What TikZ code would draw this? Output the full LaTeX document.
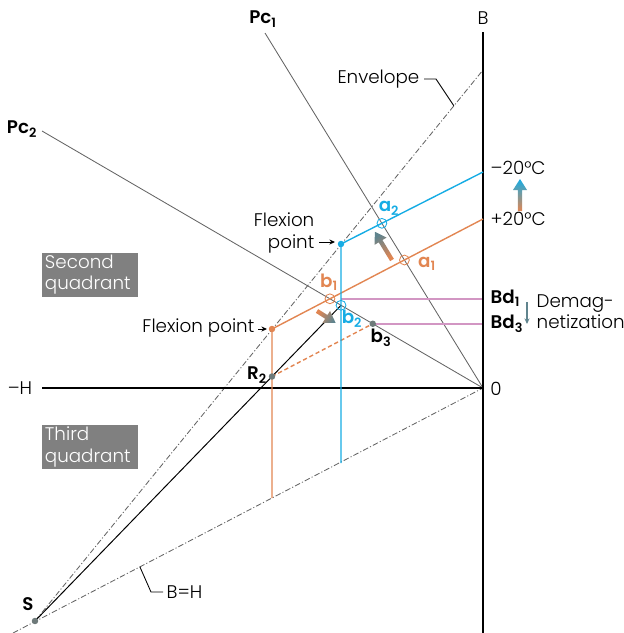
\documentclass[tikz,border=0pt]{standalone}
\usepackage{fontspec}
\setmainfont{Poppins}[UprightFont={* Light}, BoldFont={* SemiBold}]
\usetikzlibrary{arrows.meta,positioning,calc}
\definecolor{cyanc}{RGB}{22,172,228}
\definecolor{orangec}{RGB}{226,134,82}
\definecolor{pinkc}{RGB}{210,150,195}
\definecolor{lineg}{RGB}{100,100,100}
\definecolor{dotg}{RGB}{110,122,122}
\definecolor{headg}{RGB}{96,132,142}
\definecolor{boxg}{RGB}{128,128,128}
\newcommand{\lowix}[1]{\textsubscript{#1}}
\newcommand{\gradarrow}[5]{%
  \begin{scope}[shift={(#1)},rotate=#2]
    \pgfmathsetmacro{\shadeang}{#2-90}
    \shade[top color=#5,bottom color=#4,shading angle=\shadeang]
      (0,-2.2) -- (#3-11,-2.2) -- (#3-11,-7) -- (#3,0) -- (#3-11,7) -- (#3-11,2.2) -- (0,2.2) -- cycle;
  \end{scope}}

\begin{document}
\begin{tikzpicture}[x=0.025cm,y=-0.025cm,
        lbl/.style={font=\fontsize{13}{15}\selectfont, inner sep=1pt},
        bl/.style={lbl, font=\fontsize{13}{15}\selectfont\bfseries},
        axis/.style={line width=0.8pt},
        guide/.style={draw=lineg, line width=0.6pt},
        chain/.style={draw=lineg, line width=0.6pt, dash pattern=on 4pt off 1.5pt on 0.8pt off 1.5pt},
        curveb/.style={draw=cyanc, line width=1pt},
        curveo/.style={draw=orangec, line width=1pt},
        level/.style={draw=pinkc, line width=1.1pt},
        ring/.style={line width=0.6pt},
        ptr/.style={-{Stealth[length=4pt,width=3.6pt]}, line width=0.6pt},
        qbox/.style={fill=boxg, text=white, align=left, font=\fontsize{13}{15}\selectfont,
                     minimum width=2.4cm, text width=2.25cm, inner sep=1.5pt}
    ]
        \useasboundingbox (0,0) rectangle (624,633);

        \coordinate (O) at (483,388);
        \coordinate (Btop) at (483,32);
        \coordinate (Bbot) at (483,633);
        \coordinate (Hend) at (42,388);
        \coordinate (S) at (35,621);
        \coordinate (EnvTop) at (483,70);
        \coordinate (BHstart) at (13,633);
        \coordinate (Pc1) at (265,33);
        \coordinate (Pc2) at (42,131);
        \coordinate (Cm20) at (483,172);
        \coordinate (FlexB) at (341,244);
        \coordinate (BlueBot) at (341,463);
        \coordinate (Cp20) at (483,219);
        \coordinate (FlexO) at (272,329);
        \coordinate (OrBot) at (272,498);
        \coordinate (a2) at (intersection of Cm20--FlexB and Pc1--O);
        \coordinate (a1) at (intersection of Cp20--FlexO and Pc1--O);
        \coordinate (b1) at (intersection of Cp20--FlexO and Pc2--O);
        \coordinate (b2) at (intersection of FlexB--BlueBot and Pc2--O);
        \coordinate (b3) at ($(Pc2)!0.75!(O)$);
        \coordinate (R2) at (intersection of S--b2 and FlexO--OrBot);
        \coordinate (envpt) at ($(S)!0.935!(EnvTop)$);
        \coordinate (bhpt) at ($(BHstart)!0.27!(O)$);

        \draw[chain] (S) -- (EnvTop);
        \draw[chain] (BHstart) -- (O);
        \draw[guide] (Pc1) -- (O);
        \draw[guide] (Pc2) -- (O);
        \draw[level] (b1 -| BlueBot) -- (b1 -| O);
        \draw[level] (b3) -- (b3 -| O);
        \draw[axis] (Btop) -- (Bbot);
        \draw[axis] (Hend) -- (O);
        \draw[line width=0.7pt] (S) -- (b2);
        \draw[curveo, dash pattern=on 3pt off 2pt] (R2) -- (b3);
        \draw[curveo] (Cp20) -- (FlexO) -- (OrBot);
        \draw[curveb] (Cm20) -- (FlexB) -- (BlueBot);

        \draw[ring, orangec] (a1) circle[radius=3.5pt];
        \draw[ring, orangec] (b1) circle[radius=3.5pt];
        \draw[ring, cyanc] (a2) circle[radius=3.5pt];
        \draw[ring, cyanc] (b2) circle[radius=3.5pt];
        \fill[cyanc] (FlexB) circle[radius=2.3pt];
        \fill[orangec] (FlexO) circle[radius=2.3pt];
        \fill[dotg] (S) circle[radius=2.3pt];
        \fill[dotg] (R2) circle[radius=2.3pt];
        \fill[dotg] (b3) circle[radius=2.3pt];

        \gradarrow{392,260}{121.3}{33}{orangec}{headg}
        \gradarrow{317,311}{-32.4}{22}{orangec}{headg}
        \gradarrow{520,211}{90}{32}{orangec}{cyanc}

        \node[lbl] (Blbl) at (483,18) {B};
        \node[lbl] (zero) at (496,389) {0};
        \node[lbl] (Hlbl) at (20,388) {–H};
        \node[bl] (Pc1lbl) at (263,19) {Pc\lowix{1}};
        \node[bl] (Pc2lbl) at (22,129) {Pc\lowix{2}};
        \node[bl] (Slbl) at (28,604) {S};
        \node[bl] (R2lbl) at (257,375) {R\lowix{2}};
        \node[bl] (b3lbl) at (381,338) {b\lowix{3}};
        \node[bl, text=cyanc] (a2lbl) at (389,208) {a\lowix{2}};
        \node[bl, text=orangec] (a1lbl) at (427,264) {a\lowix{1}};
        \node[bl, text=orangec] (b1lbl) at (329,282) {b\lowix{1}};
        \node[bl, text=cyanc] (b2lbl) at (352,319) {b\lowix{2}};

        \node[lbl, anchor=west] (m20) at (489,168) {–20°C};
        \node[lbl, anchor=west] (p20) at (489,219) {+20°C};
        \node[bl, anchor=west] (Bd1) at (489,298) {Bd\lowix{1}};
        \node[bl, anchor=west] (Bd3) at (489,324) {Bd\lowix{3}};
        \node[lbl, anchor=west, align=left] (demag) at (535,312) {Demag-\\netization};
        \coordinate (dm1) at (527,302);
        \coordinate (dm2) at (527,324);
        \draw[draw=headg, line width=0.8pt, -{Stealth[length=4pt,width=3.6pt]}] (dm1) -- (dm2);

        \node[lbl, anchor=east] (envlbl) at (421,79) {Envelope};
        \draw[line width=0.6pt] (envlbl.east) ++(3,0) -- (436,79) -- (envpt);
        \node[lbl, anchor=west] (bhlbl) at (165,592) {B=H};
        \draw[line width=0.6pt] (bhlbl.west) ++(-2,0) -- (151,592) -- (bhpt);

        \node[lbl, anchor=east, align=right] (flexBlbl) at (316,233) {Flexion\\point};
        \draw[ptr] ($(flexBlbl.east |- FlexB)+(3,-2)$) -- ($(FlexB)+(-6,-2)$);
        \node[lbl, anchor=east] (flexOlbl) at (256,328) {Flexion point};
        \draw[ptr] ($(flexOlbl.east |- FlexO)+(2,0)$) -- ($(FlexO)+(-5,0)$);

        \node[qbox] (q2) at (90,275) {Second\\quadrant};
        \node[qbox] (q3) at (90,447) {Third\\quadrant};
    \end{tikzpicture}
\end{document}
